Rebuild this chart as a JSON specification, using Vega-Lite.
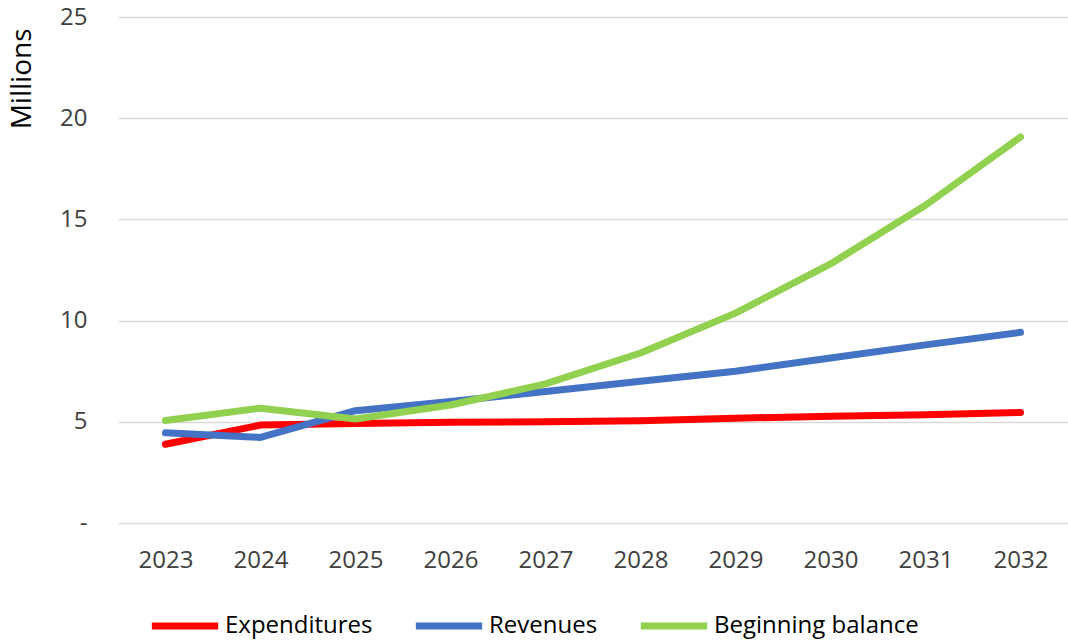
{
  "$schema": "https://vega.github.io/schema/vega-lite/v6.json",
  "width": 950,
  "height": 506,
  "autosize": "none",
  "padding": {"left": 118, "top": 17, "right": 0, "bottom": 121},
  "background": "white",
  "config": {
    "font": "Open Sans",
    "view": {"stroke": null}
  },
  "data": {
    "values": [
      {"year": "2023", "series": "Expenditures", "value": 3.89},
      {"year": "2024", "series": "Expenditures", "value": 4.84},
      {"year": "2025", "series": "Expenditures", "value": 4.92},
      {"year": "2026", "series": "Expenditures", "value": 4.98},
      {"year": "2027", "series": "Expenditures", "value": 5.0},
      {"year": "2028", "series": "Expenditures", "value": 5.05},
      {"year": "2029", "series": "Expenditures", "value": 5.18},
      {"year": "2030", "series": "Expenditures", "value": 5.27},
      {"year": "2031", "series": "Expenditures", "value": 5.35},
      {"year": "2032", "series": "Expenditures", "value": 5.46},
      {"year": "2023", "series": "Revenues", "value": 4.46},
      {"year": "2024", "series": "Revenues", "value": 4.23},
      {"year": "2025", "series": "Revenues", "value": 5.55},
      {"year": "2026", "series": "Revenues", "value": 6.0},
      {"year": "2027", "series": "Revenues", "value": 6.5},
      {"year": "2028", "series": "Revenues", "value": 7.0},
      {"year": "2029", "series": "Revenues", "value": 7.5},
      {"year": "2030", "series": "Revenues", "value": 8.15},
      {"year": "2031", "series": "Revenues", "value": 8.8},
      {"year": "2032", "series": "Revenues", "value": 9.42},
      {"year": "2023", "series": "Beginning balance", "value": 5.06},
      {"year": "2024", "series": "Beginning balance", "value": 5.67},
      {"year": "2025", "series": "Beginning balance", "value": 5.14},
      {"year": "2026", "series": "Beginning balance", "value": 5.83},
      {"year": "2027", "series": "Beginning balance", "value": 6.87},
      {"year": "2028", "series": "Beginning balance", "value": 8.4},
      {"year": "2029", "series": "Beginning balance", "value": 10.37},
      {"year": "2030", "series": "Beginning balance", "value": 12.8},
      {"year": "2031", "series": "Beginning balance", "value": 15.7},
      {"year": "2032", "series": "Beginning balance", "value": 19.07}
    ]
  },
  "mark": {"type": "line", "strokeWidth": 7, "strokeCap": "round", "strokeJoin": "round"},
  "encoding": {
    "x": {
      "field": "year",
      "type": "ordinal",
      "scale": {"type": "point", "padding": 0.5},
      "axis": {
        "title": null,
        "labelAngle": 0,
        "ticks": false,
        "domain": false,
        "grid": false,
        "labelFontSize": 24,
        "labelColor": "#404040",
        "labelPadding": 25
      }
    },
    "y": {
      "field": "value",
      "type": "quantitative",
      "scale": {"domain": [0, 25], "nice": false},
      "axis": {
        "title": "Millions",
        "titleFontSize": 28,
        "titleFontWeight": "normal",
        "titleColor": "black",
        "titleAnchor": "end",
        "titleAlign": "right",
        "titleX": -96,
        "titleY": 11,
        "titleAngle": -90,
        "titleBaseline": "middle",
        "values": [0, 5, 10, 15, 20, 25],
        "labelExpr": "datum.value == 0 ? '-' : datum.label",
        "ticks": false,
        "domain": false,
        "gridColor": "#d9d9d9",
        "gridWidth": 1.5,
        "labelFontSize": 24,
        "labelColor": "#404040",
        "labelPadding": 31
      }
    },
    "color": {
      "field": "series",
      "type": "nominal",
      "sort": ["Expenditures", "Revenues", "Beginning balance"],
      "scale": {
        "domain": ["Expenditures", "Revenues", "Beginning balance"],
        "range": ["#FF0000", "#4472C4", "#92D050"]
      },
      "legend": {
        "title": null,
        "orient": "none",
        "direction": "horizontal",
        "legendX": 30,
        "legendY": 572,
        "symbolType": "stroke",
        "symbolSize": 4400,
        "symbolStrokeWidth": 7,
        "labelFontSize": 24,
        "labelColor": "black",
        "labelLimit": 400,
        "labelOffset": 3,
        "columnPadding": 28
      }
    }
  }
}
